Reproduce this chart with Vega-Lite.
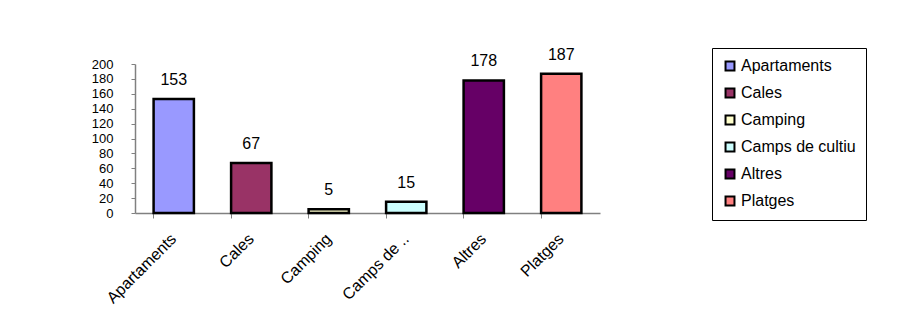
{
  "$schema": "https://vega.github.io/schema/vega-lite/v6.json",
  "width": 465,
  "height": 149,
  "autosize": {"type": "none"},
  "padding": {"left": 135, "top": 64, "right": 306, "bottom": 105},
  "background": "white",
  "config": {
    "view": {"stroke": null},
    "font": "Liberation Sans"
  },
  "data": {
    "values": [
      {"categoria": "Apartaments", "valor": 153},
      {"categoria": "Cales", "valor": 67},
      {"categoria": "Camping", "valor": 5},
      {"categoria": "Camps de cultiu", "valor": 15},
      {"categoria": "Altres", "valor": 178},
      {"categoria": "Platges", "valor": 187}
    ]
  },
  "encoding": {
    "x": {
      "field": "categoria",
      "type": "nominal",
      "sort": null,
      "scale": {"paddingInner": 0.48, "paddingOuter": 0.24},
      "axis": {
        "title": null,
        "labelAngle": -45,
        "labelAlign": "right",
        "labelBaseline": "middle",
        "labelFontSize": 16,
        "labelColor": "black",
        "labelPadding": 18,
        "bandPosition": 0,
        "tickSize": 5,
        "tickColor": "#808080",
        "domainColor": "#808080",
        "domainWidth": 1.5,
        "labelExpr": "datum.label == 'Camps de cultiu' ? 'Camps de ..' : datum.label"
      }
    },
    "y": {
      "field": "valor",
      "type": "quantitative",
      "scale": {"domain": [0, 200], "nice": false},
      "axis": {
        "title": null,
        "values": [0, 20, 40, 60, 80, 100, 120, 140, 160, 180, 200],
        "grid": false,
        "labelOverlap": false,
        "labelFontSize": 13,
        "labelColor": "black",
        "labelPadding": 18,
        "tickSize": 4,
        "tickColor": "#808080",
        "domainColor": "#808080",
        "domainWidth": 1.5
      }
    }
  },
  "layer": [
    {
      "mark": {"type": "bar", "stroke": "black", "strokeWidth": 2.5},
      "encoding": {
        "color": {
          "field": "categoria",
          "type": "nominal",
          "sort": null,
          "scale": {
            "domain": ["Apartaments", "Cales", "Camping", "Camps de cultiu", "Altres", "Platges"],
            "range": ["#9999FF", "#993366", "#FFFFCC", "#CCFFFF", "#660066", "#FF8080"]
          },
          "legend": {
            "title": null,
            "orient": "none",
            "legendX": 577,
            "legendY": -16,
            "symbolType": "square",
            "symbolSize": 80,
            "symbolStrokeColor": "black",
            "symbolStrokeWidth": 2,
            "labelFontSize": 16,
            "labelColor": "black",
            "rowPadding": 9,
            "padding": 10,
            "strokeColor": "black",
            "labelOffset": 3
          }
        }
      }
    },
    {
      "mark": {"type": "text", "baseline": "bottom", "dy": -11, "fontSize": 16, "color": "black"},
      "encoding": {"text": {"field": "valor", "type": "quantitative"}}
    }
  ]
}
